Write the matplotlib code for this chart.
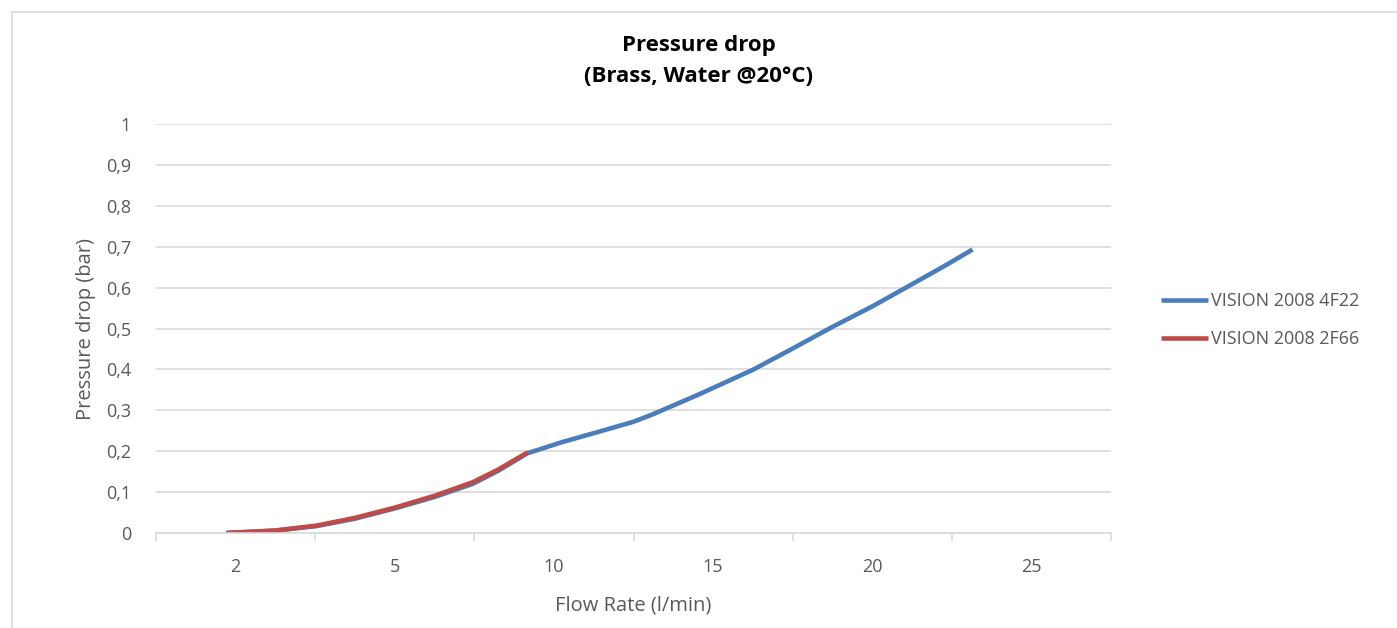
import matplotlib.pyplot as plt
from matplotlib.patches import Rectangle

# Category axis labels (flow rate, l/min)
categories = ['2', '5', '10', '15', '20', '25']

# Series points: x is position along the category axis (0 = "2", 1 = "5", ...)
blue_x = [-0.057, 0.25, 0.509, 0.75, 1.0, 1.25, 1.489, 1.65, 1.834, 2.05, 2.286, 2.5, 2.62, 2.9, 3.25, 3.5, 3.75, 4.0, 4.23, 4.45, 4.63]
blue_y = [0.0, 0.006, 0.017, 0.035, 0.060, 0.088, 0.120, 0.152, 0.195, 0.222, 0.248, 0.272, 0.290, 0.337, 0.399, 0.451, 0.504, 0.554, 0.604, 0.652, 0.693]
red_x = [-0.057, 0.25, 0.509, 0.75, 1.0, 1.25, 1.489, 1.65, 1.834]
red_y = [0.0, 0.006, 0.018, 0.037, 0.062, 0.091, 0.124, 0.155, 0.197]

plt.rcParams['font.family'] = ['Open Sans', 'DejaVu Sans']
grey = '#595959'

fig = plt.figure(figsize=(13.97, 6.28), dpi=100)
ax = fig.add_axes([156 / 1397, 1 - 533 / 628, (1111 - 156) / 1397, (533 - 124) / 628])

# light frame around the chart
fig.patches.append(Rectangle((12 / 1397, -0.1), 1.2, 1 - 12 / 628 + 0.1, transform=fig.transFigure,
                             fill=False, edgecolor='#d9d9d9', linewidth=1.2))

ax.plot(blue_x, blue_y, color='#4a7ebb', linewidth=3.3, solid_capstyle='butt', label='VISION 2008 4F22')
ax.plot(red_x, red_y, color='#be4b48', linewidth=3.3, solid_capstyle='butt', label='VISION 2008 2F66')

ax.set_xlim(-0.5, 5.5)
ax.set_ylim(0, 1)
ax.set_yticks([i / 10 for i in range(11)])
ax.set_yticklabels(['0'] + ['0,%d' % i for i in range(1, 10)] + ['1'])
ax.set_xticks(range(len(categories)))
ax.set_xticklabels(categories)
ax.set_xticks([i - 0.5 for i in range(len(categories) + 1)], minor=True)

ax.grid(axis='y', color='#d9d9d9', linewidth=1.2)
ax.set_axisbelow(True)
for s in ['left', 'right', 'top']:
    ax.spines[s].set_visible(False)
ax.spines['bottom'].set_color('#d9d9d9')
ax.spines['bottom'].set_linewidth(1.2)

ax.tick_params(axis='y', length=0, pad=18, labelsize=13, labelcolor=grey)
ax.tick_params(axis='x', which='major', length=0, pad=18, labelsize=13, labelcolor=grey)
ax.tick_params(axis='x', which='minor', length=6, color='#d9d9d9', width=1.2)

ax.set_xlabel('Flow Rate (l/min)', fontsize=14.5, color=grey, labelpad=14)
ax.set_ylabel('Pressure drop (bar)', fontsize=14.5, color=grey, labelpad=7)

# chart title sits at the centre of the whole chart area
fig.text(0.5, 1 - 61 / 628, 'Pressure drop\n(Brass, Water @20°C)',
         ha='center', va='center', fontsize=16, fontweight='bold', linespacing=1.6)

ax.legend(loc='center left', bbox_to_anchor=(1.035, 0.52), frameon=False, fontsize=13,
          labelcolor=grey, handlelength=2.6, handletextpad=0.2, labelspacing=1.1)

fig.savefig('out.png', dpi=100)
